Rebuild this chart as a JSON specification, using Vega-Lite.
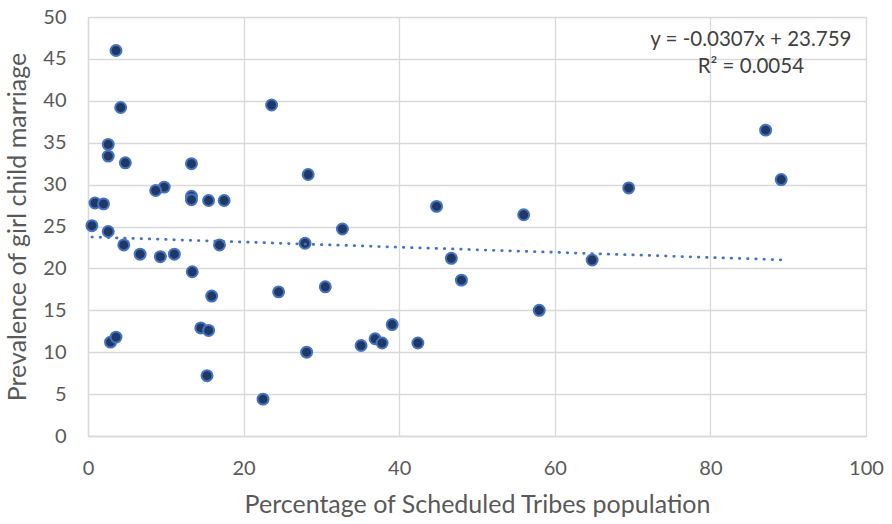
{
  "$schema": "https://vega.github.io/schema/vega-lite/v6.json",
  "width": 778,
  "height": 419,
  "autosize": {"type": "none"},
  "padding": {"left": 88, "top": 17, "right": 26, "bottom": 88},
  "background": "white",
  "config": {
    "view": {"stroke": null},
    "font": "Lato",
    "axis": {
      "grid": true,
      "gridColor": "#d9d9d9",
      "gridWidth": 1.3,
      "domainColor": "#d9d9d9",
      "domainWidth": 1.3,
      "ticks": false,
      "labelFlush": false,
      "labelOverlap": false,
      "labelFont": "Lato",
      "labelFontSize": 20,
      "labelColor": "#595959",
      "titleFont": "Lato",
      "titleFontSize": 25,
      "titleFontWeight": "normal",
      "titleColor": "#595959"
    }
  },
  "datasets": {
    "states": [
      {"st_pct": 3.6, "child_marriage": 46.0},
      {"st_pct": 4.2, "child_marriage": 39.2},
      {"st_pct": 23.6, "child_marriage": 39.5},
      {"st_pct": 2.6, "child_marriage": 34.8},
      {"st_pct": 2.6, "child_marriage": 33.4},
      {"st_pct": 4.8, "child_marriage": 32.6},
      {"st_pct": 13.3, "child_marriage": 32.5},
      {"st_pct": 9.8, "child_marriage": 29.7},
      {"st_pct": 8.7, "child_marriage": 29.3},
      {"st_pct": 13.3, "child_marriage": 28.6},
      {"st_pct": 13.3, "child_marriage": 28.2},
      {"st_pct": 15.5, "child_marriage": 28.1},
      {"st_pct": 17.5, "child_marriage": 28.1},
      {"st_pct": 0.9, "child_marriage": 27.8},
      {"st_pct": 2.0, "child_marriage": 27.7},
      {"st_pct": 0.5, "child_marriage": 25.1},
      {"st_pct": 2.6, "child_marriage": 24.4},
      {"st_pct": 4.6, "child_marriage": 22.8},
      {"st_pct": 6.7, "child_marriage": 21.7},
      {"st_pct": 9.3, "child_marriage": 21.4},
      {"st_pct": 11.1, "child_marriage": 21.7},
      {"st_pct": 16.9, "child_marriage": 22.8},
      {"st_pct": 13.4, "child_marriage": 19.6},
      {"st_pct": 15.9, "child_marriage": 16.7},
      {"st_pct": 24.5, "child_marriage": 17.2},
      {"st_pct": 2.9, "child_marriage": 11.2},
      {"st_pct": 3.6, "child_marriage": 11.8},
      {"st_pct": 14.5, "child_marriage": 12.9},
      {"st_pct": 15.5, "child_marriage": 12.6},
      {"st_pct": 15.3, "child_marriage": 7.2},
      {"st_pct": 22.5, "child_marriage": 4.4},
      {"st_pct": 28.3, "child_marriage": 31.2},
      {"st_pct": 44.8, "child_marriage": 27.4},
      {"st_pct": 32.7, "child_marriage": 24.7},
      {"st_pct": 27.9, "child_marriage": 23.0},
      {"st_pct": 46.7, "child_marriage": 21.2},
      {"st_pct": 48.0, "child_marriage": 18.6},
      {"st_pct": 30.5, "child_marriage": 17.8},
      {"st_pct": 39.1, "child_marriage": 13.3},
      {"st_pct": 36.9, "child_marriage": 11.6},
      {"st_pct": 37.8, "child_marriage": 11.1},
      {"st_pct": 35.1, "child_marriage": 10.8},
      {"st_pct": 42.4, "child_marriage": 11.1},
      {"st_pct": 28.1, "child_marriage": 10.0},
      {"st_pct": 87.1, "child_marriage": 36.5},
      {"st_pct": 89.1, "child_marriage": 30.6},
      {"st_pct": 69.5, "child_marriage": 29.6},
      {"st_pct": 56.0, "child_marriage": 26.4},
      {"st_pct": 64.8, "child_marriage": 21.0},
      {"st_pct": 58.0, "child_marriage": 15.0}
    ],
    "trend": [
      {"st_pct": 0.5, "fitted": 23.744},
      {"st_pct": 89.1, "fitted": 21.024}
    ]
  },
  "layer": [
    {
      "data": {"name": "states"},
      "mark": {
        "type": "circle",
        "size": 120,
        "opacity": 1,
        "fill": "#203864",
        "stroke": "#4472c4",
        "strokeWidth": 2
      },
      "encoding": {
        "x": {
          "field": "st_pct",
          "type": "quantitative",
          "scale": {"domain": [0, 100], "nice": false},
          "axis": {
            "title": "Percentage of Scheduled Tribes population",
            "values": [0, 20, 40, 60, 80, 100],
            "labelPadding": 22,
            "titlePadding": 14
          }
        },
        "y": {
          "field": "child_marriage",
          "type": "quantitative",
          "scale": {"domain": [0, 50], "nice": false},
          "axis": {
            "title": "Prevalence of girl child marriage",
            "values": [0, 5, 10, 15, 20, 25, 30, 35, 40, 45, 50],
            "labelPadding": 22,
            "titlePadding": 12
          }
        }
      }
    },
    {
      "data": {"name": "trend"},
      "mark": {
        "type": "line",
        "color": "#4472c4",
        "strokeWidth": 2.75,
        "strokeCap": "round",
        "strokeDash": [0.5, 7.7]
      },
      "encoding": {
        "x": {"field": "st_pct", "type": "quantitative"},
        "y": {"field": "fitted", "type": "quantitative"}
      }
    },
    {
      "data": {"values": [{}]},
      "mark": {
        "type": "text",
        "text": ["y = -0.0307x + 23.759", "R² = 0.0054"],
        "font": "Lato",
        "fontSize": 20.5,
        "color": "#404040",
        "align": "center",
        "baseline": "middle",
        "lineHeight": 27
      },
      "encoding": {
        "x": {"datum": 85.2, "type": "quantitative"},
        "y": {"datum": 47.26, "type": "quantitative"}
      }
    }
  ]
}
